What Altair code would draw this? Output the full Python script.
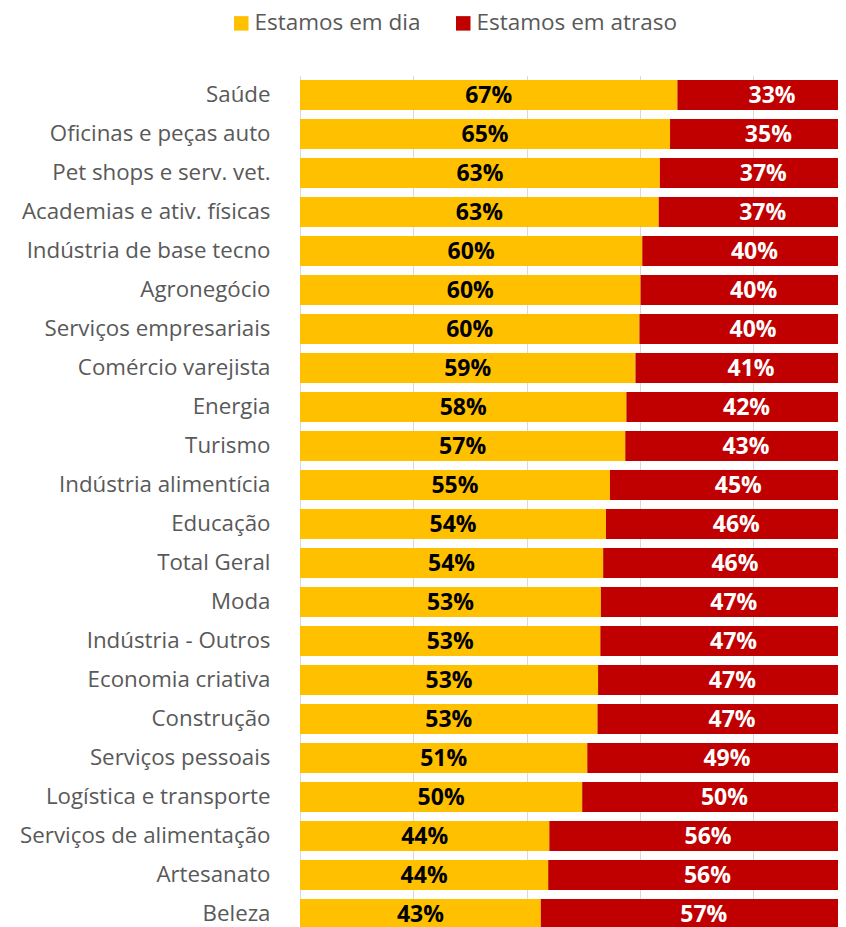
import altair as alt
import pandas as pd

categories = [
    "Saúde", "Oficinas e peças auto", "Pet shops e serv. vet.",
    "Academias e ativ. físicas", "Indústria de base tecno", "Agronegócio",
    "Serviços empresariais", "Comércio varejista", "Energia", "Turismo",
    "Indústria alimentícia", "Educação", "Total Geral", "Moda",
    "Indústria - Outros", "Economia criativa", "Construção",
    "Serviços pessoais", "Logística e transporte", "Serviços de alimentação",
    "Artesanato", "Beleza",
]
em_dia = [66.6, 65.3, 63.5, 63.3, 60.4, 60.1, 59.9, 59.2, 57.6, 57.4,
          54.7, 54.0, 53.5, 53.1, 53.0, 52.6, 52.5, 50.7, 49.8, 44.0, 43.8, 42.5]
em_dia_labels = [67, 65, 63, 63, 60, 60, 60, 59, 58, 57, 55, 54, 54, 53, 53, 53, 53, 51, 50, 44, 44, 43]
atraso_labels = [33, 35, 37, 37, 40, 40, 40, 41, 42, 43, 45, 46, 46, 47, 47, 47, 47, 49, 50, 56, 56, 57]
series = ["Estamos em dia", "Estamos em atraso"]
colors = ["#FFC000", "#C00000"]
text_colors = ["#000000", "#FFFFFF"]

rows = []
for c, d, ld, la in zip(categories, em_dia, em_dia_labels, atraso_labels):
    rows.append(dict(cat=c, serie=series[0], start=0, end=d, label=f"{ld}%", tcol=text_colors[0]))
    rows.append(dict(cat=c, serie=series[1], start=d, end=100, label=f"{la}%", tcol=text_colors[1]))
df = pd.DataFrame(rows)

FONT = "Open Sans"
xscale = alt.Scale(domain=[0, 94.94], nice=False, zero=True)
yscale = alt.Scale(domain=categories, paddingInner=0.2308, paddingOuter=0.1154)

base = alt.Chart(df)

bars = base.mark_bar(clip=True).encode(
    y=alt.Y("cat:N", scale=yscale, sort=categories,
            axis=alt.Axis(title=None, ticks=False, labelPadding=30, labelFontSize=22.3,
                          labelFont=FONT, labelColor="#595959", domain=True,
                          domainColor="#D9D9D9", domainWidth=1, labelLimit=400)),
    x=alt.X("start:Q", scale=xscale,
            axis=alt.Axis(title=None, labels=False, ticks=False, domain=False,
                          grid=True, gridColor="#D9D9D9", gridWidth=1,
                          values=[0, 20, 40, 60, 80])),
    x2="end:Q",
    color=alt.Color("serie:N", scale=alt.Scale(domain=series, range=colors),
                    legend=alt.Legend(title=None, orient="none", direction="horizontal",
                                      legendX=-70, legendY=-63.5, padding=0,
                                      symbolType="square", symbolSize=210,
                                      symbolStrokeWidth=0, labelFont=FONT,
                                      labelFontSize=22.5, labelColor="#595959",
                                      labelOffset=2, columnPadding=31, labelLimit=400)),
)

texts = base.transform_calculate(
    mid="(datum.start + datum.end) / 2"
).mark_text(font=FONT, fontSize=23, fontWeight="bold", baseline="middle", dy=1).encode(
    y=alt.Y("cat:N", scale=yscale, sort=categories),
    x=alt.X("mid:Q", scale=xscale),
    text="label:N",
    color=alt.Color("tcol:N", scale=None),
)

chart = alt.layer(bars, texts).properties(
    width=538, height=858,
    padding={"left": 292, "top": 67.5, "right": 0, "bottom": 0},
    autosize="none",
).configure_view(stroke=None)

chart.save("out.html", embed_options={"renderer": "svg", "actions": False})
